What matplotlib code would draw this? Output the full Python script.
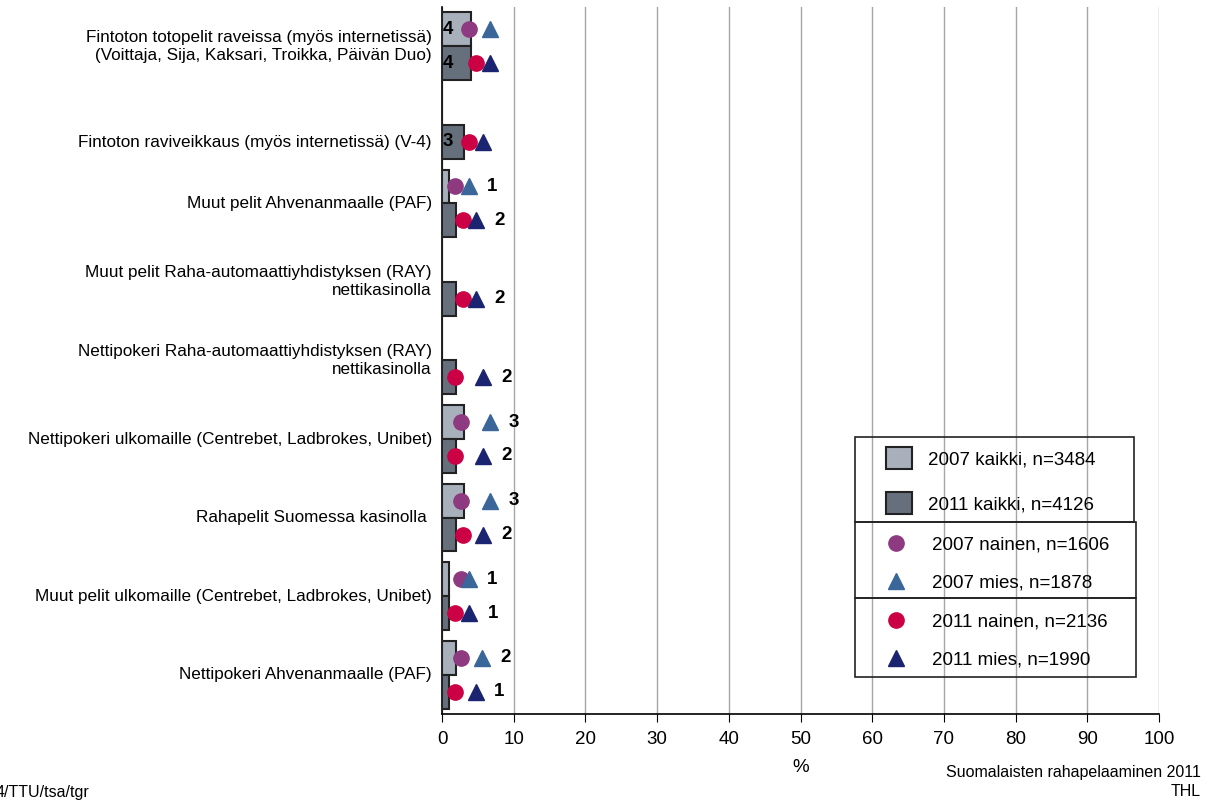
import numpy as np
import matplotlib
matplotlib.use("Agg")
import matplotlib.pyplot as plt
from matplotlib.patches import Rectangle, Patch
from matplotlib.lines import Line2D

plt.rcParams["font.family"] = ["Liberation Sans", "DejaVu Sans"]

# data
categories = [
    "Fintoton totopelit raveissa (myös internetissä)\n(Voittaja, Sija, Kaksari, Troikka, Päivän Duo)",
    "Fintoton raviveikkaus (myös internetissä) (V-4)",
    "Muut pelit Ahvenanmaalle (PAF)",
    "Muut pelit Raha-automaattiyhdistyksen (RAY)\nnettikasinolla",
    "Nettipokeri Raha-automaattiyhdistyksen (RAY)\nnettikasinolla",
    "Nettipokeri ulkomaille (Centrebet, Ladbrokes, Unibet)",
    "Rahapelit Suomessa kasinolla ",
    "Muut pelit ulkomaille (Centrebet, Ladbrokes, Unibet)",
    "Nettipokeri Ahvenanmaalle (PAF)",
]
nan = np.nan
kaikki_2007 = [4, nan, 1, nan, nan, 3, 3, 1, 2]
kaikki_2011 = [4, 3, 2, 2, 2, 2, 2, 1, 1]
nainen_2007 = [3.8, nan, 1.8, nan, nan, 2.7, 2.7, 2.6, 2.7]
mies_2007 = [6.7, nan, 3.7, nan, nan, 6.7, 6.7, 3.7, 5.6]
nainen_2011 = [4.8, 3.8, 2.9, 2.9, 1.8, 1.8, 2.9, 1.8, 1.8]
mies_2011 = [6.7, 5.7, 4.7, 4.7, 5.7, 5.7, 5.7, 3.8, 4.7]

legend_labels = ["2007 kaikki, n=3484", "2011 kaikki, n=4126",
                 "2007 nainen, n=1606", "2007 mies, n=1878",
                 "2011 nainen, n=2136", "2011 mies, n=1990"]

c_bar07 = "#A7B0BB"
c_bar11 = "#66707C"
c_nai07 = "#8E3A80"
c_mies07 = "#3A6699"
c_nai11 = "#CC0044"
c_mies11 = "#1B2470"

W, H = 1214, 801
fig = plt.figure(figsize=(W / 100, H / 100), dpi=100)
ax = fig.add_axes([442 / W, 1 - 714 / H, (1159 - 442) / W, (714 - 7) / H])

y = np.arange(len(categories))
off = 0.215
bh = 0.43

ax.barh(y - off, kaikki_2007, height=bh, color=c_bar07, edgecolor="#222222", lw=1.5, zorder=3)
ax.barh(y + off, kaikki_2011, height=bh, color=c_bar11, edgecolor="#222222", lw=1.5, zorder=3)
ax.plot(nainen_2007, y - off, "o", ls="none", color=c_nai07, ms=11, zorder=4)
ax.plot(mies_2007, y - off, "^", ls="none", color=c_mies07, ms=11, zorder=5)
ax.plot(nainen_2011, y + off, "o", ls="none", color=c_nai11, ms=11, zorder=4)
ax.plot(mies_2011, y + off, "^", ls="none", color=c_mies11, ms=11, zorder=5)

# value labels
for i in range(len(categories)):
    for val, n, m, yy in ((kaikki_2007[i], nainen_2007[i], mies_2007[i], i - off),
                          (kaikki_2011[i], nainen_2011[i], mies_2011[i], i + off)):
        if np.isnan(val):
            continue
        if i < 2:
            ax.text(0.85, yy, f"{val:.0f}", ha="center", va="center",
                    fontsize=13.5, fontweight="bold", zorder=6)
        else:
            ax.text(max(n, m) + 3.3, yy, f"{val:.0f}", ha="center", va="center",
                    fontsize=13.5, fontweight="bold", zorder=6)

ax.set_xlim(0, 100)
ax.set_ylim(len(categories) - 0.5, -0.5)
ax.set_xticks(np.arange(0, 101, 10))
ax.tick_params(axis="x", labelsize=13.5, length=6, pad=6, direction="out")
ax.set_yticks([])
ax.grid(axis="x", color="#A6A6A6", lw=1, zorder=0)
ax.set_axisbelow(True)
for s in ("top", "right"):
    ax.spines[s].set_visible(False)
ax.spines["left"].set_linewidth(1.2)
ax.spines["bottom"].set_linewidth(1.2)
ax.set_xlabel("%", fontsize=13.5, labelpad=8)

# category labels
for i, lab in enumerate(categories):
    shift = 0.22 if i == 1 else 0.0
    ax.text(-0.014, i + shift, lab, transform=ax.get_yaxis_transform(),
            ha="right", va="center", fontsize=12.3, linespacing=1.25)

# legend boxes
for (x0, y0, x1, y1) in ((855, 437, 1134, 522), (855, 522, 1136, 598), (855, 598, 1136, 677)):
    fig.add_artist(Rectangle((x0 / W, 1 - y1 / H), (x1 - x0) / W, (y1 - y0) / H,
                             transform=fig.transFigure, fill=False, ec="#222222", lw=1.2))

h1 = [Patch(fc=c_bar07, ec="#222222", lw=1.5), Patch(fc=c_bar11, ec="#222222", lw=1.5)]
h2 = [Line2D([], [], marker="o", ls="none", color=c_nai07, ms=11),
      Line2D([], [], marker="^", ls="none", color=c_mies07, ms=11)]
h3 = [Line2D([], [], marker="o", ls="none", color=c_nai11, ms=11),
      Line2D([], [], marker="^", ls="none", color=c_mies11, ms=11)]

leg1 = fig.legend(h1, legend_labels[:2], loc="upper left", bbox_to_anchor=(886 / W, 1 - 447 / H),
                  frameon=False, fontsize=13.5, borderpad=0, borderaxespad=0,
                  handlelength=1.4, handleheight=1.4, handletextpad=0.85, labelspacing=1.25)
leg2 = fig.legend(h2, legend_labels[2:4], loc="upper left", bbox_to_anchor=(882 / W, 1 - 536 / H),
                  frameon=False, fontsize=13.5, borderpad=0, borderaxespad=0,
                  handlelength=1.5, handletextpad=1.17, labelspacing=1.13)
leg3 = fig.legend(h3, legend_labels[4:], loc="upper left", bbox_to_anchor=(882 / W, 1 - 613 / H),
                  frameon=False, fontsize=13.5, borderpad=0, borderaxespad=0,
                  handlelength=1.5, handletextpad=1.17, labelspacing=1.13)

fig.text(1201 / W, 1 - 773 / H, "Suomalaisten rahapelaaminen 2011", ha="right", va="center", fontsize=11.5)
fig.text(1201 / W, 1 - 792 / H, "THL", ha="right", va="center", fontsize=11.5)
fig.text(-4 / W, 1 - 792 / H, "4/TTU/tsa/tgr", ha="left", va="center", fontsize=11.5)

fig.savefig("out.png", dpi=100)
